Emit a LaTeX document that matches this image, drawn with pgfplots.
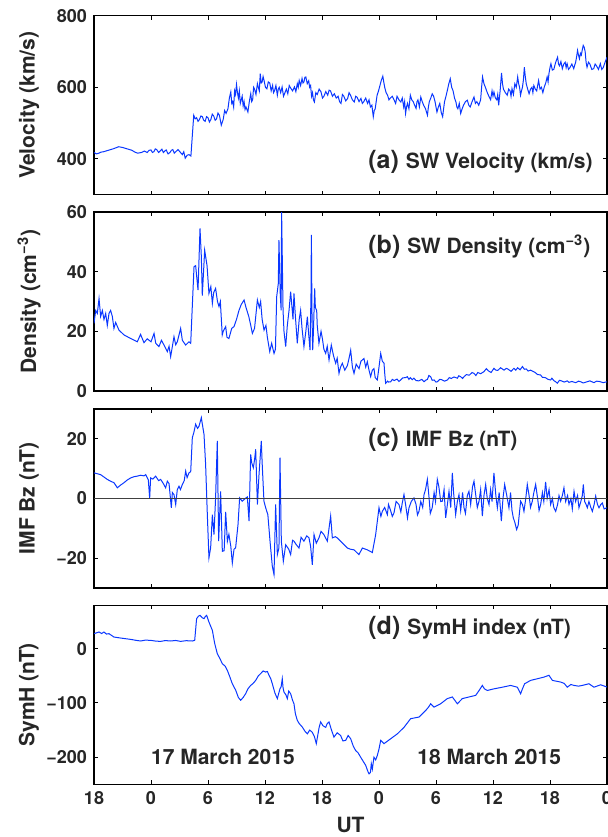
\documentclass[border=0pt]{standalone}
\usepackage{fontspec}
\setmainfont{TeX Gyre Heros}
\usepackage{pgfplots}
\pgfplotsset{compat=1.18}
\definecolor{lineblue}{RGB}{10,55,255}
\definecolor{txt}{RGB}{38,38,38}
\pgfplotsset{
  panel/.style={
    scale only axis, width=256.5pt, height=89.5pt,
    anchor=north west,
    xmin=0, xmax=54, xtick={0,6,...,54}, xticklabels={},
    tick align=inside, xtick pos=both, ytick pos=both,
    major tick length=2pt,
    every tick/.style={black, line width=0.45pt},
    axis line style={line width=0.65pt, black},
    tick label style={font=\fontsize{9}{10}\selectfont\bfseries, text=txt},
    label style={font=\fontsize{10.5}{12}\selectfont\bfseries, text=txt},
    ylabel style={at={(axis description cs:-0.1267,0.5)}, anchor=center},
    /pgf/number format/assume math mode=true,
  },
  bl/.style={lineblue, line width=0.5pt, no markers},
}
\newcommand{\ann}[2]{{\fontsize{12.5}{14}\selectfont\bfseries #1\ \fontsize{10.5}{12}\selectfont #2}}
\begin{document}
\begin{tikzpicture}
\useasboundingbox (0,0) rectangle (304pt,-418.5pt);
% ---------------- (a) velocity
\begin{axis}[panel, at={(47pt,-7.85pt)}, ymin=300, ymax=800, ytick={400,600,800}, ylabel={Velocity (km/s)}]
\addplot[bl] coordinates {
(0,418)(0.25,414)(0.5,416)(0.75,419)(1,420)(1.5,424)(2,428)(2.3,431)(2.6,434)(3,432)(3.5,428)(4,424)(4.3,419)(4.6,416)(5,418)(5.3,422)(5.6,418)(5.8,424)(6,425)(6.15,418)(6.3,420)(6.45,428)(6.6,426)(6.8,418)(7,423)(7.15,427)(7.3,418)(7.45,422)(7.6,425)(7.8,414)(8,418)(8.15,424)(8.3,426)(8.45,416)(8.6,420)(8.85,426)(9.1,418)(9.3,412)(9.45,420)(9.6,402)(9.8,410)(10,412)(10.2,408)(10.5,522)
(10.65,512)(10.8,515)(10.95,505)(11.1,510)(11.25,520)(11.4,518)(11.55,508)(11.7,505)(11.85,518)(12,515)(12.15,503)(12.3,510)(12.45,525)(12.6,520)(12.75,508)(12.9,512)(13.05,528)(13.2,522)(13.4,494)(13.6,510)(13.75,535)(13.9,527)(14.1,540)(14.25,570)(14.4,587)(14.5,555)(14.6,560)(14.7,545)(14.8,590)(14.9,580)(15.0,608)(15.1,585)(15.2,570)(15.3,590)(15.4,555)(15.5,565)(15.6,575)(15.7,548)(15.8,560)(15.9,538)(16.0,545)(16.2,531)(16.35,560)(16.5,582)(16.6,560)(16.7,565)(16.8,600)(16.9,595)(17.05,580)(17.2,610)(17.3,600)(17.4,590)(17.5,638)(17.6,612)(17.7,615)(17.8,630)(17.9,619)(18.05,600)(18.2,596)(18.35,615)(18.5,612)(18.65,590)(18.8,605)(18.9,585)(19.0,590)(19.15,605)(19.3,578)(19.4,595)(19.5,600)(19.65,585)(19.8,601)(19.95,575)(20.1,585)(20.25,595)(20.4,582)(20.55,605)(20.7,598)(20.9,590)(21.1,601)(21.25,588)(21.4,610)(21.5,600)(21.6,619)(21.75,605)(21.9,625)(22.0,612)(22.1,615)(22.2,628)(22.3,629)(22.45,610)(22.6,618)(22.7,600)(22.8,605)(22.9,575)(23.0,585)(23.1,565)(23.2,559)(23.35,585)(23.5,580)(23.7,595)(23.9,587)(24.05,570)(24.2,575)(24.4,588)(24.6,578)(24.75,592)(24.9,590)(25.1,575)(25.3,582)(25.5,570)(25.7,575)(25.85,560)(26.0,555)(26.15,580)(26.3,575)(26.5,562)(26.7,569)(26.85,585)(27.0,578)(27.2,565)(27.4,559)(27.55,575)(27.7,572)(27.9,560)(28.1,569)(28.25,555)(28.4,560)(28.6,570)(28.8,555)(28.95,565)(29.1,545)(29.25,550)(29.4,518)(29.5,535)(29.6,540)
(29.8,578)(29.95,590)(30.1,605)(30.25,620)(30.4,631)(30.5,615)(30.6,600)(30.75,585)(30.9,578)(31.05,565)(31.2,570)(31.4,575)(31.6,564)(31.75,555)(31.9,575)(32.1,565)(32.3,559)(32.45,570)(32.6,545)(32.7,560)(32.8,527)(32.9,545)(33.0,555)(33.15,540)(33.3,578)(33.45,565)(33.6,560)(33.75,550)(33.9,541)(34.0,560)(34.1,565)(34.25,545)(34.4,573)(34.55,560)(34.7,550)(34.9,540)(35.1,522)(35.2,545)(35.3,560)(35.45,570)(35.6,582)(35.75,575)(35.9,560)(36.0,545)(36.1,531)(36.25,545)(36.4,555)(36.55,530)(36.7,518)(36.8,540)(36.9,560)(37.05,575)(37.2,592)(37.35,610)(37.5,624)(37.65,600)(37.8,590)(37.95,570)(38.1,559)(38.2,545)(38.3,540)(38.45,555)(38.6,527)(38.75,540)(38.9,550)(39.1,560)(39.3,564)(39.45,550)(39.6,545)(39.8,560)(40.0,573)(40.15,555)(40.3,560)(40.5,550)(40.7,565)(40.8,600)(40.9,629)(41.05,610)(41.2,600)(41.4,585)(41.6,573)(41.75,565)(41.9,590)(42.0,575)(42.1,587)(42.25,570)(42.4,565)(42.5,580)(42.6,550)(42.75,590)(42.9,640)(43.0,610)(43.1,595)(43.3,585)(43.5,578)(43.65,595)(43.8,590)(43.9,575)(44.0,596)(44.15,580)(44.3,610)(44.45,600)(44.6,629)(44.7,610)(44.8,600)(44.9,578)(45.0,590)(45.1,600)(45.2,620)(45.3,656)(45.4,630)(45.5,610)(45.65,595)(45.8,582)(45.95,595)(46.1,600)(46.2,585)(46.3,605)(46.45,595)(46.6,590)(46.7,605)(46.8,619)(46.95,595)(47.1,600)(47.25,585)(47.4,601)(47.55,612)(47.7,629)(47.8,615)(47.9,640)(48.0,655)(48.1,666)(48.25,648)(48.4,650)(48.6,670)(48.8,684)(48.9,665)(49.0,660)(49.15,672)(49.3,652)(49.45,665)(49.6,670)(49.7,655)(49.8,666)(49.95,650)(50.1,655)(50.3,665)(50.5,652)(50.6,662)(50.7,670)(50.8,685)(50.9,703)(51.0,690)(51.1,680)(51.2,695)(51.3,690)(51.4,705)(51.5,717)(51.6,712)(51.7,700)(51.8,670)(51.9,656)(52.05,670)(52.2,665)(52.4,650)(52.6,652)(52.75,665)(52.9,660)(53.1,650)(53.3,666)(53.45,650)(53.6,655)(53.8,670)(54,684)
};
\end{axis}
% ---------------- (b) density
\begin{axis}[panel, at={(47pt,-106pt)}, ymin=0, ymax=60, ytick={0,20,40,60}, ylabel={Density (cm\textsuperscript{−3})}]
\addplot[bl] coordinates {
(0,22.7) (0.18,27) (0.35,26) (0.53,31) (0.7,25) (0.88,27) (1.05,24) (1.23,26) (1.4,22) (1.58,26) (1.75,27) (1.93,25) (2.1,21) (2.28,23) (2.63,20.4) (3.16,18.8) (3.86,17.6) (4.56,16.5) (4.9,19) (5.26,16.2) (5.6,17.5) (6.0,16.5) (6.32,19.3) (6.5,16) (6.84,14.9) (7.1,17) (7.37,15.4) (7.72,13.2) (7.9,15) (8.07,11.5) (8.42,18.2) (8.6,15.5) (8.77,16.5) (9.12,21) (9.3,17) (9.65,15.4) (10.0,16.5) (10.18,16) (10.53,41.7) (10.7,42) (10.95,33.8) (11.16,54.5) (11.3,45) (11.4,32) (11.65,47.2) (11.9,42) (12.1,32.7) (12.3,35) (12.46,29.4) (12.6,33) (12.8,34.4) (13.0,30) (13.16,28.3) (13.3,30) (13.5,18.8) (13.6,20) (13.86,21.6) (14.0,18) (14.2,17.6) (14.5,21) (14.74,21.6) (15.0,24) (15.26,27) (15.5,29) (15.8,30.5) (16.0,28) (16.3,24.9) (16.5,22) (16.67,19.3) (16.9,21) (17.2,30.5) (17.4,28) (17.54,30) (17.7,24) (17.9,20.4) (18.1,22) (18.25,18) (18.5,13.2) (18.7,16) (18.95,12.6) (19.1,14) (19.23,31.6) (19.4,36) (19.47,50.6) (19.6,33) (19.7,27) (19.75,60) (19.9,27) (20.0,20) (20.18,14.9) (20.35,22) (20.53,27) (20.7,33.3) (20.95,24) (21.05,32.7) (21.2,25) (21.4,16) (21.6,24) (21.75,27) (21.9,21) (22.1,14.9) (22.3,20) (22.46,24.9) (22.6,19) (22.74,13.7) (22.85,34) (22.88,52.3) (22.95,25) (23.02,13.7) (23.1,20) (23.23,34.4) (23.3,28) (23.44,27) (23.5,22) (23.68,16) (23.9,20) (24.04,17.6) (24.2,14) (24.39,12.6) (24.55,15) (24.74,10.4) (24.98,15.4) (25.2,12) (25.44,9.3) (25.6,11) (25.79,5.9) (25.95,8) (26.14,9.3) (26.4,7) (26.67,8.5) (26.85,11) (27.02,13.7) (27.2,8) (27.37,5.9) (27.6,9) (27.9,7.5) (28.1,10) (28.42,10.9) (28.6,8) (28.77,9.8) (28.95,7) (29.12,4.8) (29.3,7) (29.47,7.5) (29.6,4.5) (29.82,3.7) (30.0,8) (30.18,12.6) (30.35,10) (30.53,9.3) (30.6,6)
(30.7,2.6)(30.9,3.3)(31.0,3)(31.23,3.1)(31.4,3.9)(31.6,3.5)(31.9,4.0)(32.1,3.2)(32.28,3.7)(32.5,4.4)(32.8,4.5)(32.98,4.8)(33.15,3.9)(33.3,4.5)(33.5,3.8)(33.68,4.3)(33.9,3.5)(34.2,3.4)(34.5,3.9)(34.74,3.1)(34.9,3.6)(35.1,3.9)(35.25,5.2)(35.44,4.8)(35.6,3.6)(35.8,3.7)(36.0,3.0)(36.14,3.1)(36.4,3.9)(36.6,3.8)(36.9,3.3)(37.2,3.7)(37.4,4.5)(37.6,4.2)(37.9,4.7)(38.25,4.3)(38.4,5.1)(38.6,4.8)(38.8,4.2)(38.95,4.8)(39.2,5.5)(39.5,5.3)(39.8,6.2)(40.0,5.9)(40.2,5.2)(40.4,6.2)(40.7,5.8)(41.05,6.5)(41.3,7.5)(41.5,6.8)(41.8,6.2)(42.1,7.6)(42.3,7.0)(42.5,6.9)(42.8,7.8)(43.16,7.0)(43.4,7.6)(43.6,7.3)(43.9,6.6)(44.2,7.6)(44.4,7.0)(44.6,7.8)(44.85,7.1)(45.1,8.2)(45.3,7.3)(45.5,7.4)(45.7,6.7)(45.96,7.0)(46.2,6.6)(46.4,6.3)(46.7,5.5)(47.0,5.4)(47.2,4.6)(47.5,4.5)(47.8,3.9)(48.07,3.7)(48.2,4.3)(48.4,3.5)(48.6,3.1)(48.77,2.6)(49.0,3.6)(49.2,3.4)(49.5,3.0)(49.82,3.4)(50.0,2.9)(50.3,3.2)(50.7,2.8)(51.0,3.3)(51.23,3.1)(51.5,2.7)(51.8,3.0)(52.2,3.4)(52.63,2.8)(52.9,3.3)(53.2,3.2)(53.6,2.8)(54,3.1)
};
\end{axis}
% ---------------- (c) IMF Bz
\begin{axis}[panel, at={(47pt,-204.5pt)}, ymin=-30, ymax=30, ytick={-20,0,20}, yticklabels={−20,0,20}, ylabel={IMF Bz (nT)}]
\addplot[bl] coordinates {
(0,8.6) (0.35,8.3) (0.7,8.0) (1.05,7.2) (1.4,6.4) (1.75,5.8) (2.1,5.3) (2.46,3.6) (2.8,4.5) (3.16,5.3) (3.5,6.2) (3.86,6.9) (4.2,7.3) (4.56,7.5) (4.9,7.8) (5.26,7.6) (5.44,8.0) (5.72,6.2) (5.86,0) (5.96,6.9) (6.2,6.5) (6.49,7.5) (6.8,6.0) (7.02,6.4) (7.3,5.0) (7.54,3.6) (7.72,5.8) (7.9,5.0) (8.14,-3.1) (8.25,2) (8.42,1.3) (8.6,-2) (8.77,3) (8.95,4.1) (9.1,3.0) (9.3,4.7) (9.5,6) (9.65,9.2) (9.8,7) (10.0,8.6) (10.18,9) (10.35,20.4) (10.5,22) (10.7,24.9) (10.9,23.5) (11.05,24.2) (11.3,27.1) (11.4,25) (11.58,21.5) (11.75,11.4) (11.93,-5.4) (12.1,-19.9) (12.28,-16.5) (12.46,-5.4) (12.63,-12.1) (12.8,0.2) (12.98,19.3) (13.12,-14.3) (13.33,2.4) (13.51,-17.7) (13.7,-17.5) (13.86,-4.5) (14.04,-14.3) (14.2,-12) (14.4,-16) (14.56,-21.6) (14.74,-17) (14.91,-16.5) (15.16,-8.7) (15.33,0.2) (15.6,-0.9) (16.0,0.2) (16.14,0.5) (16.32,-7.6) (16.49,14.8) (16.6,12) (16.77,10.3) (16.9,13) (17.02,16.5) (17.2,-2) (17.37,8) (17.61,19.3) (17.7,12) (17.89,-0.9) (18.07,-3.1) (18.3,-5.4) (18.53,-14.3) (18.77,-22.7) (18.95,-25.5) (19.12,-2) (19.3,-18.8) (19.47,-16.5) (19.58,13.7) (19.72,-14.3) (19.93,-21) (20.18,-15.5) (20.5,-17) (20.7,-18.8) (20.9,-14) (21.05,-14.3) (21.3,-15.5) (21.58,-16.6) (21.8,-13) (22.1,-14.3) (22.4,-12.5) (22.63,-13.2) (22.8,-16) (22.98,-22.2) (23.16,-12.1) (23.4,-15) (23.68,-13.2) (23.9,-11) (24.2,-12.1) (24.56,-14.3) (24.91,-5.9) (25.09,-13.2) (25.4,-12.8) (25.61,-13.2) (26.14,-14.9) (26.67,-16.6) (27.0,-17) (27.37,-17.2) (27.89,-18.8) (28.25,-16.6) (28.77,-17.2) (29.3,-18.1) (29.65,-12.1)
(30.0,-3.1) (30.2,-6) (30.35,-4.3) (30.6,-3) (30.88,-5.4) (31.0,-2) (31.2,-3.8) (31.4,-6) (31.58,-4.8) (31.8,-1) (32.1,-2.0) (32.3,-4.5) (32.45,-1.5) (32.63,1.3) (32.8,-2) (33.0,-6.5) (33.16,-3.1) (33.4,-1) (33.68,0.2) (33.9,-2) (34.05,-5.5) (34.21,-4.3) (34.4,-1) (34.6,-3) (34.74,1.3) (34.9,3) (35.09,6.4) (35.25,1) (35.4,-5) (35.6,-3.1) (35.8,2) (35.95,-1) (36.14,6.4) (36.3,4) (36.5,-1) (36.67,-0.9) (36.85,3) (37.02,-6.5) (37.2,-2) (37.37,2.4) (37.55,-3) (37.72,8.6) (37.85,2) (38.07,-5.4) (38.25,-1) (38.42,1.3) (38.6,-4) (38.8,2) (38.95,-3.1) (39.1,-5) (39.3,1) (39.47,2.4) (39.65,-2) (39.85,4) (40.0,5.8) (40.15,2) (40.35,-3) (40.53,-0.9) (40.7,3) (40.88,-5.9) (41.05,1) (41.23,4.7) (41.4,0) (41.58,-2) (41.75,3) (41.9,-1) (42.1,8.6) (42.3,1) (42.46,-3.1) (42.65,2) (42.88,-7.6) (43.05,0) (43.23,4.7) (43.45,1) (43.68,-3.1) (43.85,2) (44.0,-4) (44.14,-6.5) (44.3,-8) (44.49,-10.4) (44.65,-9) (44.91,-0.9) (45.1,-2) (45.26,-4.3) (45.45,0) (45.61,4.7) (45.8,1) (45.95,-3) (46.14,-0.9) (46.3,2) (46.49,4.7) (46.7,0) (46.85,-4) (47.02,-2) (47.2,2) (47.35,-1) (47.54,5.6) (47.7,0) (47.9,3) (48.07,-2) (48.25,0) (48.4,-3) (48.6,-4.3) (48.8,-2) (48.95,1) (49.12,-0.9) (49.3,1) (49.47,3.6) (49.65,-1) (49.85,1) (50.0,-2) (50.2,0) (50.35,-3.5) (50.53,2.4) (50.7,-1) (50.9,1) (51.05,-3.1) (51.25,-1) (51.4,1) (51.51,4.7) (51.65,-1) (51.8,-2) (51.93,-3.1) (52.1,-1) (52.3,-3) (52.46,-4.3) (52.65,-2) (52.81,0.8) (53.0,-2) (53.16,-3.1) (53.35,-2) (53.51,-1.5) (53.7,-3.5) (54,-3.1)
};
\addplot[black!75, line width=0.5pt, no markers] coordinates {(0,0) (54,0)};
\end{axis}
% ---------------- (d) SymH
\begin{axis}[panel, at={(47pt,-302.65pt)}, ymin=-250, ymax=80, ytick={-200,-100,0}, yticklabels={−200,−100,0}, ylabel={SymH (nT)},
  xticklabels={18,0,6,12,18,0,6,12,18,0}, xlabel={UT},
  xlabel style={at={(axis description cs:0.5,-0.229)}, anchor=center}]
\addplot[bl] coordinates {
(0,27.7) (0.53,30.8) (0.8,28) (1.05,30.8) (1.3,27) (1.58,27.7) (2.1,21.5) (2.8,19.7) (3.3,18.5) (3.86,17.2) (4.4,15.5) (4.91,14.2) (5.4,15.8) (5.96,15.4) (6.5,14) (7.02,13.5) (7.5,15) (8.07,14.2) (8.6,15.2) (9.12,13.5) (9.7,14.8) (10.35,14.2) (10.6,15.4) (10.8,55.4) (11.0,60) (11.16,61.5) (11.4,57) (11.58,55.4) (11.7,59) (11.86,61.5) (12.1,49.2) (12.46,33.8) (12.7,10) (12.98,-9.2) (13.25,-18) (13.51,-27.7) (13.8,-32) (14.04,-40) (14.3,-52) (14.56,-64.6) (14.91,-76.3) (15.2,-90) (15.44,-95) (15.7,-90) (15.96,-83) (16.2,-74) (16.49,-67.7) (16.75,-64) (17.02,-58.4) (17.3,-50) (17.54,-46) (17.8,-41) (18.07,-43) (18.25,-42) (18.42,-49) (18.6,-55) (18.77,-64.6) (19.05,-82) (19.3,-92) (19.45,-82) (19.58,-73.8) (19.7,-70) (19.82,-55.4) (19.9,-72) (20.0,-80) (20.2,-85) (20.35,-92) (20.5,-78) (20.7,-83)
(20.9,-95) (21.05,-101.5) (21.2,-120) (21.4,-132) (21.6,-138) (21.93,-144.5) (22.2,-152) (22.46,-157) (22.7,-150) (22.98,-154) (23.2,-162) (23.4,-175) (23.55,-160) (23.7,-145) (23.86,-135) (24.1,-142) (24.39,-145) (24.55,-138) (24.74,-135) (25.0,-150) (25.26,-163) (25.6,-155) (25.96,-160) (26.2,-170) (26.49,-169) (26.75,-160) (27.02,-166) (27.3,-180) (27.54,-187.6) (27.8,-192) (28.07,-200) (28.35,-208) (28.6,-215) (28.8,-225) (28.95,-230.6) (29.1,-228) (29.19,-212) (29.3,-222) (29.47,-200) (29.65,-205) (29.82,-197) (30.0,-185) (30.18,-169)
(30.53,-175) (31.23,-166) (31.93,-157) (32.63,-145) (33.33,-129) (34.21,-126) (34.91,-114) (35.2,-108) (35.44,-101.5) (35.79,-107.6) (36.2,-104) (36.49,-101.5) (37.19,-92) (37.72,-89) (38.25,-101.5) (38.77,-92) (39.47,-89) (40.18,-86) (40.5,-78) (40.88,-67.7) (41.1,-74) (41.4,-77) (42.1,-74) (42.98,-71) (43.86,-67.7) (44.56,-71) (44.91,-83) (45.1,-74) (45.33,-64.6) (45.96,-58.4) (46.67,-55.4) (47.37,-52.3) (47.89,-49) (48.25,-58.4) (49.12,-61.5) (49.5,-64) (49.82,-71) (50.2,-66) (50.53,-67.7) (51.0,-69) (51.4,-67.7) (52.1,-64.6) (52.63,-71) (53.33,-66.5) (54,-70.7)
};
\end{axis}
% ---------------- annotations
\begin{scope}[every node/.style={anchor=base west, inner sep=0pt, text=txt}]
\node at (184pt,-84pt) {\ann{(a)}{SW Velocity (km/s)}};
\node at (184pt,-126.5pt) {\ann{(b)}{SW Density (cm\textsuperscript{−3})}};
\node at (184pt,-223.25pt) {\ann{(c)}{IMF Bz (nT)}};
\node at (184pt,-317.35pt) {\ann{(d)}{SymH index (nT)}};
\node at (75.35pt,-382.35pt) {\fontsize{10.5}{12}\selectfont\bfseries 17 March 2015};
\node at (208.5pt,-382.35pt) {\fontsize{10.5}{12}\selectfont\bfseries 18 March 2015};
\end{scope}
\end{tikzpicture}
\end{document}
